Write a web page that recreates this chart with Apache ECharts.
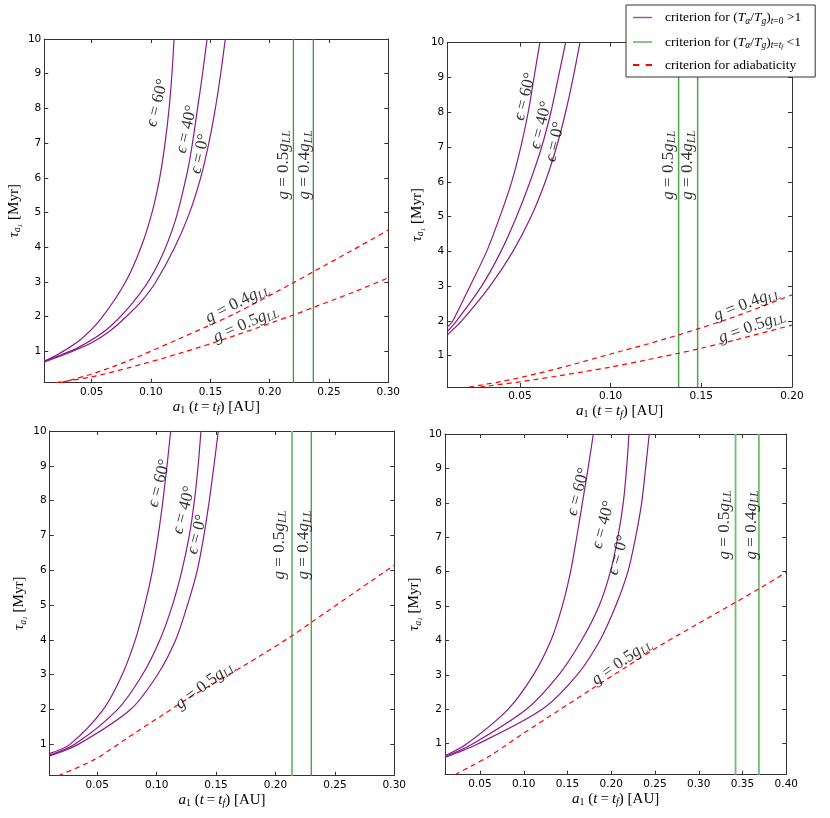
<!DOCTYPE html>
<html>
<head>
<meta charset="UTF-8">
<title>tau a1 criteria</title>
<script src="https://cdn.jsdelivr.net/npm/echarts@6/dist/echarts.min.js"></script>
<style>
  html, body { margin: 0; padding: 0; background: #fff; }
  #chart { width: 830px; height: 818px; }
</style>
</head>
<body>
<div id="chart"></div>
<script>
// tick values
var xTicks30 = [0.05, 0.10, 0.15, 0.20, 0.25, 0.30];
var xTicks20 = [0.05, 0.10, 0.15, 0.20];
var xTicks40 = [0.05, 0.10, 0.15, 0.20, 0.25, 0.30, 0.35, 0.40];
var yTicks = [1, 2, 3, 4, 5, 6, 7, 8, 9, 10];

// panel 1 (top left)
var p1Eps60 = [[0.01,0.72],[0.0232,0.95],[0.0401,1.33],[0.057,1.91],[0.0785,3],[0.0915,4],[0.1008,5],[0.1073,6],[0.1118,7],[0.1152,8],[0.1176,9],[0.1194,10]];
var p1Eps40 = [[0.01,0.72],[0.0401,1.14],[0.0654,1.71],[0.0907,2.67],[0.1075,3.63],[0.1206,4.79],[0.1309,6.22],[0.1349,7],[0.1392,8],[0.1434,9],[0.1472,10]];
var p1Eps0 = [[0.01,0.7],[0.03,0.95],[0.05,1.25],[0.065,1.58],[0.079,2],[0.092,2.45],[0.104,3],[0.12,4],[0.1325,5],[0.1418,6],[0.1487,7],[0.1542,8],[0.1587,9],[0.1626,10]];
var p1Green = [0.22, 0.2368];
var p1Adia04 = [[0.024,0.1],[0.05,0.35],[0.08,0.72],[0.1246,1.38],[0.17,2.08],[0.22,2.98],[0.237,3.3],[0.27,3.92],[0.30,4.5]];
var p1Adia05 = [[0.02,0.1],[0.05,0.27],[0.08,0.52],[0.1246,0.95],[0.17,1.45],[0.22,2.05],[0.237,2.27],[0.27,2.7],[0.30,3.12]];

// panel 2 (top right)
var p2Eps60 = [[0.01,1.83],[0.013,2],[0.0225,3],[0.0317,4],[0.039,5],[0.0455,6],[0.0505,7],[0.0546,8],[0.0578,9],[0.061,10]];
var p2Eps40 = [[0.01,1.69],[0.0151,2],[0.0289,3],[0.0396,4],[0.0482,5],[0.0556,6],[0.062,7],[0.0671,8],[0.0712,9],[0.0752,10]];
var p2Eps0 = [[0.01,1.6],[0.0179,2],[0.0335,3],[0.0462,4],[0.0562,5],[0.064,6],[0.0702,7],[0.0752,8],[0.0794,9],[0.0831,10]];
var p2Green = [0.1375, 0.148];
var p2Adia04 = [[0.022,0.1],[0.04,0.26],[0.06,0.49],[0.08,0.76],[0.10,1.05],[0.12,1.33],[0.1375,1.6],[0.148,1.77],[0.17,2.15],[0.20,2.75]];
var p2Adia05 = [[0.028,0.1],[0.05,0.25],[0.07,0.41],[0.084,0.53],[0.10,0.67],[0.12,0.88],[0.1375,1.07],[0.148,1.19],[0.17,1.47],[0.20,1.88]];

// panel 3 (bottom left)
var p3Eps60 = [[0.01,0.74],[0.027,1],[0.055,2],[0.071,3],[0.082,4],[0.09,5],[0.0965,6],[0.1013,7],[0.1053,8],[0.1087,9],[0.1118,10]];
var p3Eps40 = [[0.01,0.69],[0.031,1],[0.067,2],[0.088,3],[0.1027,4],[0.1133,5],[0.1213,6],[0.1275,7],[0.1318,8],[0.1349,9],[0.1373,10]];
var p3Eps0 = [[0.01,0.67],[0.034,1],[0.078,2],[0.1007,3],[0.116,4],[0.1259,5],[0.1342,6],[0.1398,7],[0.1443,8],[0.1482,9],[0.1519,10]];
var p3Green = [0.2139, 0.2301];
var p3Adia05 = [[0.0172,0.1],[0.048,0.57],[0.076,1.2],[0.104,1.82],[0.127,2.33],[0.174,3.27],[0.214,4.12],[0.230,4.5],[0.30,6.15]];

// panel 4 (bottom right)
var p4Eps60 = [[0.01,0.65],[0.035,1],[0.082,2],[0.111,3],[0.131,4],[0.144,5],[0.1535,6],[0.1605,7],[0.167,8],[0.1735,9],[0.1795,10]];
var p4Eps40 = [[0.01,0.62],[0.042,1],[0.103,2],[0.14,3],[0.166,4],[0.186,5],[0.199,6],[0.2075,7],[0.2137,8],[0.2175,9],[0.2202,10]];
var p4Eps0 = [[0.01,0.6],[0.048,1],[0.121,2],[0.161,3],[0.187,4],[0.205,5],[0.219,6],[0.2278,7],[0.2347,8],[0.2392,9],[0.2434,10]];
var p4Green = [0.342, 0.3687];
var p4Adia05 = [[0.0214,0.1],[0.04,0.35],[0.0614,0.65],[0.0995,1.3],[0.1376,1.93],[0.1757,2.56],[0.2176,3.24],[0.2557,3.85],[0.30,4.5],[0.342,5.11],[0.3687,5.5],[0.40,5.98]];

// legend names
var legendNames = [
  'criterion for (Ta/Tg)t=0 >1',
  'criterion for (Ta/Tg)t=tf <1',
  'criterion for adiabaticity'
];
var legendRich = {};
legendRich[legendNames[0]] = '{p|criterion for (}{i|T}{si|α}{r|/}{i|T}{si|g}{r|)}{si|t}{s|=0}{r| >1}';
legendRich[legendNames[1]] = '{p|criterion for (}{i|T}{si|α}{r|/}{i|T}{si|g}{r|)}{si|t}{s|=}{si|t}{ss|f}{r| <1}';
legendRich[legendNames[2]] = '{p|criterion for adiabaticity}';

function epsText(d) { return '{i|ϵ}{r| = ' + d + '°}'; }
function gText(v) { return '{i|g}{r| = ' + v + '}{i|g}{s|LL}'; }

var SERIF = '"Liberation Serif", "DejaVu Serif", serif';
var PURPLE = '#8a1a8a';
var RED = '#ff0000';

var panels = [
  {
    grid: {left: 44.3, top: 39, width: 344, height: 343.7},
    xmax: 0.30, xTicks: xTicks30,
    eps: [p1Eps60, p1Eps40, p1Eps0],
    green: p1Green, greenColor: ['#3d9b3d', '#3d9b3d'], greenWidth: [1.3, 1.3],
    adia: [p1Adia04, p1Adia05],
    labels: [
      [0.1053, 8.16, epsText(60), 76], [0.130, 7.4, epsText(40), 77], [0.1413, 6.69, epsText(0), 77],
      [0.2115, 6.37, gText('0.5'), 90], [0.2298, 6.37, gText('0.4'), 90],
      [0.1727, 2.39, gText('0.4'), 27], [0.1798, 1.79, gText('0.5'), 24]
    ]
  },
  {
    grid: {left: 447.3, top: 42.7, width: 344.7, height: 344.3},
    xmax: 0.20, xTicks: xTicks20,
    eps: [p2Eps60, p2Eps40, p2Eps0],
    green: p2Green, greenColor: ['#4aaa4a', '#4aaa4a'], greenWidth: [1.5, 1.5],
    adia: [p2Adia04, p2Adia05],
    labels: [
      [0.0528, 8.45, epsText(60), 76], [0.0617, 7.63, epsText(40), 76], [0.0694, 7.15, epsText(0), 77],
      [0.1318, 6.48, gText('0.5'), 90], [0.1425, 6.48, gText('0.4'), 90],
      [0.175, 2.49, gText('0.4'), 21], [0.1778, 1.83, gText('0.5'), 20]
    ]
  },
  {
    grid: {left: 49.7, top: 431, width: 344.6, height: 344.7},
    xmax: 0.30, xTicks: xTicks30,
    eps: [p3Eps60, p3Eps40, p3Eps0],
    green: p3Green, greenColor: ['#80c480', '#2f8f2f'], greenWidth: [2, 1.2],
    adia: [p3Adia05],
    labels: [
      [0.1022, 8.5, epsText(60), 75], [0.123, 7.73, epsText(40), 75], [0.1342, 7.03, epsText(0), 75],
      [0.2032, 6.73, gText('0.5'), 90], [0.224, 6.73, gText('0.4'), 90],
      [0.1407, 2.7, gText('0.5'), 37]
    ]
  },
  {
    grid: {left: 445, top: 434, width: 341.3, height: 340.7},
    xmax: 0.40, xTicks: xTicks40,
    eps: [p4Eps60, p4Eps40, p4Eps0],
    green: p4Green, greenColor: ['#72bd72', '#72bd72'], greenWidth: [1.8, 1.8],
    adia: [p4Adia05],
    labels: [
      [0.1623, 8.32, epsText(60), 75], [0.1909, 7.36, epsText(40), 75], [0.208, 6.48, epsText(0), 74],
      [0.3291, 7.36, gText('0.5'), 90], [0.3597, 7.36, gText('0.4'), 90],
      [0.2119, 3.38, gText('0.5'), 35]
    ]
  }
];

var frame = {show: true, onZero: false, lineStyle: {color: '#333', width: 1}};
var tickStyle = {inside: true, length: 4, lineStyle: {color: '#333', width: 1}};

var labelRich = {
  i: {fontFamily: SERIF, fontStyle: 'italic', fontSize: 17, color: '#000'},
  r: {fontFamily: SERIF, fontSize: 17, color: '#000'},
  s: {fontFamily: SERIF, fontStyle: 'italic', fontSize: 11.5, color: '#000', padding: [8, 0, 0, 0]}
};

var xNameRich = {
  i: {fontFamily: SERIF, fontStyle: 'italic', fontSize: 15, color: '#000'},
  r: {fontFamily: SERIF, fontSize: 15, color: '#000'},
  s: {fontFamily: SERIF, fontSize: 10, color: '#000', padding: [7, 0, 0, 0]},
  si: {fontFamily: SERIF, fontStyle: 'italic', fontSize: 10, color: '#000', padding: [8, 0, 0, 0]},
  ss: {fontFamily: SERIF, fontStyle: 'italic', fontSize: 7, color: '#000', padding: [12, 0, 0, 0]}
};

var grids = [], xAxes = [], yAxes = [], series = [];

panels.forEach(function (p, k) {
  grids.push(p.grid);
  xAxes.push({
    type: 'value', gridIndex: k, position: 'bottom', min: 0.01, max: p.xmax,
    axisLine: frame, splitLine: {show: false},
    axisTick: Object.assign({customValues: p.xTicks}, tickStyle),
    axisLabel: {customValues: p.xTicks, margin: 4, color: '#000', fontFamily: 'DejaVu Sans', fontSize: 10.5,
      formatter: function (v) { return v.toFixed(2); }},
    name: '{i|a}{s|1}{r| (}{i|t}{r|\u2009=\u2009}{i|t}{si|f}{r|) [AU]}',
    nameLocation: 'middle', nameGap: 15,
    nameTextStyle: {rich: xNameRich}
  });
  xAxes.push({
    type: 'value', gridIndex: k, position: 'top', min: 0.01, max: p.xmax,
    axisLine: frame, splitLine: {show: false},
    axisTick: Object.assign({customValues: p.xTicks}, tickStyle),
    axisLabel: {show: false}
  });
  yAxes.push({
    type: 'value', gridIndex: k, position: 'left', min: 0.1, max: 10,
    axisLine: frame, splitLine: {show: false},
    axisTick: Object.assign({customValues: yTicks}, tickStyle),
    axisLabel: {customValues: yTicks, margin: 3, color: '#000', fontFamily: 'DejaVu Sans', fontSize: 10.5},
    name: '{i|τ}{si|a}{ss|1}{r| [Myr]}',
    nameLocation: 'middle', nameGap: 21, nameRotate: 90,
    nameTextStyle: {rich: xNameRich}
  });
  yAxes.push({
    type: 'value', gridIndex: k, position: 'right', min: 0.1, max: 10,
    axisLine: frame, splitLine: {show: false},
    axisTick: Object.assign({customValues: yTicks}, tickStyle),
    axisLabel: {show: false}
  });

  var xi = 2 * k, yi = 2 * k;
  p.eps.forEach(function (d) {
    series.push({
      type: 'line', name: legendNames[0], xAxisIndex: xi, yAxisIndex: yi,
      data: d, symbol: 'none', showSymbol: false, smooth: 0.3,
      lineStyle: {color: PURPLE, width: 1.2}, itemStyle: {color: PURPLE}, z: 3
    });
  });
  p.green.forEach(function (x, j) {
    series.push({
      type: 'line', name: legendNames[1], xAxisIndex: xi, yAxisIndex: yi,
      data: [[x, 0.1], [x, 10]], symbol: 'none', showSymbol: false,
      lineStyle: {color: p.greenColor[j], width: p.greenWidth[j]}, itemStyle: {color: p.greenColor[j]}, z: 2
    });
  });
  p.adia.forEach(function (d) {
    series.push({
      type: 'line', name: legendNames[2], xAxisIndex: xi, yAxisIndex: yi,
      data: d, symbol: 'none', showSymbol: false, smooth: 0.3,
      lineStyle: {color: RED, width: 1.2, type: [5, 4]}, itemStyle: {color: RED}, z: 2
    });
  });
  series.push({
    type: 'scatter', name: 'labels' + k, xAxisIndex: xi, yAxisIndex: yi,
    symbolSize: 0, silent: true, z: 5,
    data: p.labels.map(function (l) {
      return {value: [l[0], l[1]], label: {formatter: l[2], rotate: l[3]}};
    }),
    label: {show: true, position: 'inside', rich: labelRich}
  });
});

var legendTextRich = {
  p: {fontFamily: SERIF, fontSize: 13.5, color: '#000', padding: [0, 0, 0, 8], lineHeight: 14},
  r: {fontFamily: SERIF, fontSize: 13.5, color: '#000', lineHeight: 14},
  i: {fontFamily: SERIF, fontStyle: 'italic', fontSize: 13.5, color: '#000', lineHeight: 14},
  s: {fontFamily: SERIF, fontSize: 9.5, color: '#000', padding: [7, 0, 0, 0], lineHeight: 14},
  si: {fontFamily: SERIF, fontStyle: 'italic', fontSize: 9.5, color: '#000', padding: [7, 0, 0, 0], lineHeight: 14},
  ss: {fontFamily: SERIF, fontStyle: 'italic', fontSize: 7, color: '#000', padding: [11, 0, 0, 0], lineHeight: 14}
};

var option = {
  animation: false,
  backgroundColor: '#fff',
  grid: grids,
  xAxis: xAxes,
  yAxis: yAxes,
  legend: {
    orient: 'vertical', left: 626, top: 5, align: 'left',
    padding: [4, 14, 5, 7], itemGap: 7, itemWidth: 19, itemHeight: 10,
    backgroundColor: '#fff', borderColor: '#333', borderWidth: 1, borderRadius: 0,
    selectedMode: false, z: 10,
    data: [
      {name: legendNames[0], icon: 'path://M0,0H19V1.4H0Z', itemStyle: {color: '#a04aa0'}},
      {name: legendNames[1], icon: 'path://M0,0H19V1.4H0Z', itemStyle: {color: '#4caf50'}},
      {name: legendNames[2], icon: 'path://M0,0H5V1.4H0Z M10,0H15V1.4H10Z', itemStyle: {color: RED}}
    ],
    formatter: function (n) { return legendRich[n]; },
    textStyle: {rich: legendTextRich}
  },
  series: series
};

var myChart = echarts.init(document.getElementById('chart'));
myChart.setOption(option);
</script>
</body>
</html>
